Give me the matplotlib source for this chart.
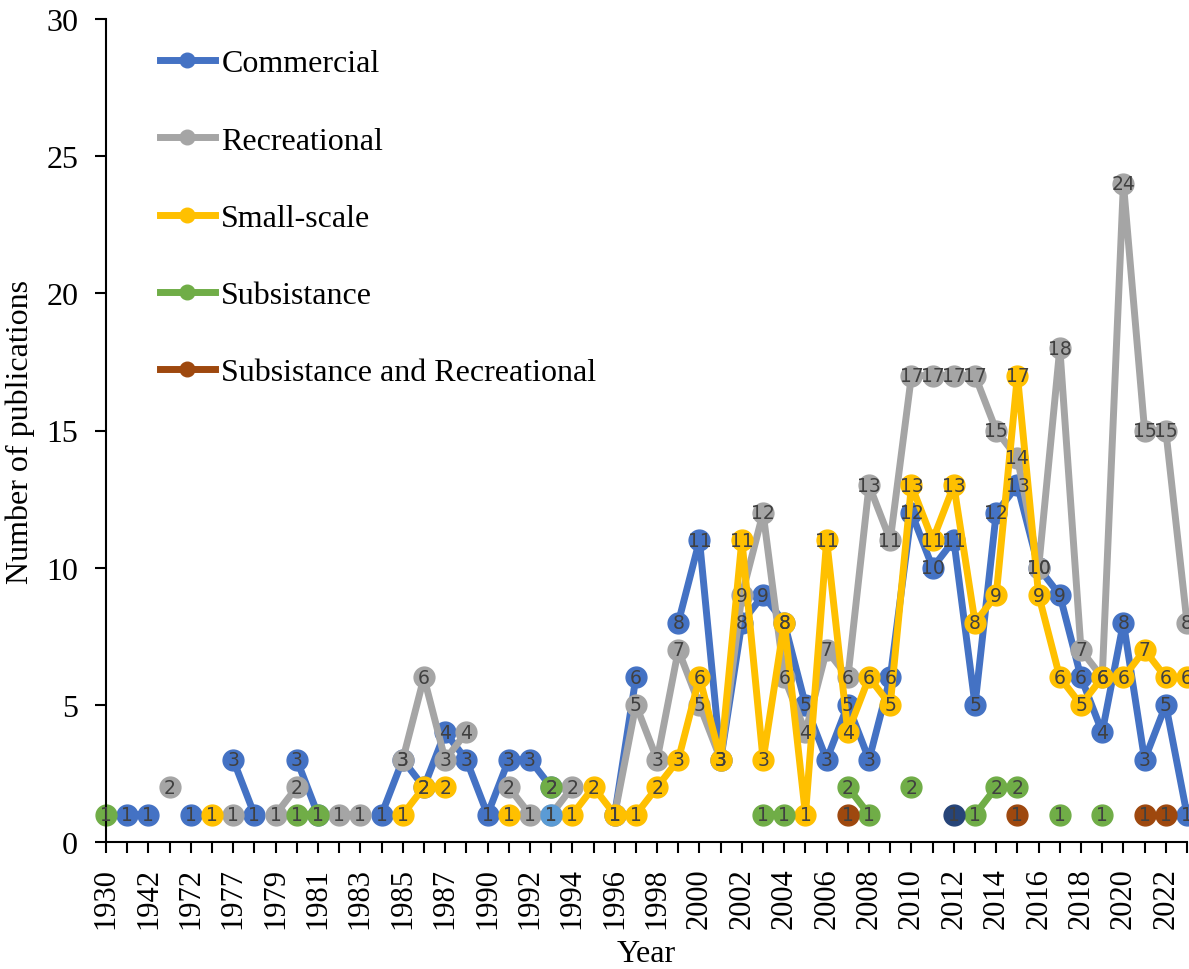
import numpy as np
import matplotlib.pyplot as plt

plt.rcParams['font.family'] = 'Liberation Serif'

# category axis (one entry per year that has publications)
years = ['1930', '1940', '1942', '1970', '1972', '1975', '1977', '1978', '1979', '1980',
         '1981', '1982', '1983', '1984', '1985', '1986', '1987', '1988'] + \
        [str(y) for y in range(1990, 2024)]

commercial = [None, 1, 1, None, 1, None, 3, 1, None, 3,
              1, None, None, 1, 3, 2, 4, 3, 1, 3,
              3, 2, None, None, 1, 6, None, 8, 11, 3,
              8, 9, 8, 5, 3, 5, 3, 6, 12, 10,
              11, 5, 12, 13, 10, 9, 6, 4, 8, 3,
              5, 1]
recreational = [None, None, None, 2, None, None, 1, None, 1, 2,
                None, 1, 1, None, 3, 6, 3, 4, None, 2,
                1, 1, 2, None, 1, 5, 3, 7, 5, 3,
                9, 12, 6, 4, 7, 6, 13, 11, 17, 17,
                17, 17, 15, 14, 10, 18, 7, 6, 24, 15,
                15, 8]
small_scale = [None, None, None, None, None, 1, None, None, None, None,
               None, None, None, None, 1, 2, 2, None, None, 1,
               None, None, 1, 2, 1, 1, 2, 3, 6, 3,
               11, 3, 8, 1, 11, 4, 6, 5, 13, 11,
               13, 8, 9, 17, 9, 6, 5, 6, 6, 7,
               6, 6]
subsistence = [1, None, None, None, None, None, None, None, None, 1,
               1, None, None, None, None, None, None, None, None, None,
               None, 2, None, None, None, None, None, None, None, None,
               None, 1, 1, None, None, 2, 1, None, 2, None,
               None, 1, 2, 2, None, 1, None, 1, None, None,
               None, None]
subs_rec = [None] * 35 + [1] + [None] * 7 + [1] + [None] * 5 + [1, 1, None]
# two single points with their own colour and no legend entry
other_a = [None] * 21 + [1] + [None] * 30
other_b = [None] * 40 + [1] + [None] * 11

series = [
    ('Commercial', commercial, '#4472C4'),
    ('Recreational', recreational, '#A5A5A5'),
    ('Small-scale', small_scale, '#FFC000'),
    ('Subsistance', subsistence, '#70AD47'),
    ('Subsistance and Recreational', subs_rec, '#9E480E'),
    ('_other_a', other_a, '#5B9BD5'),
    ('_other_b', other_b, '#264478'),
]

fig = plt.figure(figsize=(11.89, 9.70), dpi=100)
ax = fig.add_axes([106 / 1189, 1 - 843 / 970, 1081 / 1189, 823 / 970])

x = np.arange(len(years))
for name, vals, col in series:
    v = np.array(vals, dtype=float)
    ax.plot(x, v, '-o', color=col, lw=5, ms=15, label=name, clip_on=False, zorder=2)

# data labels on top of everything
for name, vals, col in series:
    for i, v in enumerate(vals):
        if v is None:
            continue
        ax.text(i, v, str(v), ha='center', va='center', fontsize=13.5,
                family='DejaVu Sans', color='#404040', zorder=5, clip_on=False)

ax.set_xlim(0, len(years) - 1)
ax.set_ylim(0, 30)
ax.set_yticks(range(0, 31, 5))
ax.set_xticks(x)
ax.set_xticklabels([y if i % 2 == 0 else '' for i, y in enumerate(years)], rotation=90)
ax.tick_params(axis='both', direction='out', length=8, width=1.5, colors='black')
ax.tick_params(axis='x', labelsize=22, pad=10)
ax.tick_params(axis='y', labelsize=23, pad=12)
for s in ['top', 'right']:
    ax.spines[s].set_visible(False)
for s in ['left', 'bottom']:
    ax.spines[s].set_linewidth(1.5)

ax.set_xlabel('Year', fontsize=23, labelpad=8)
ax.set_ylabel('Number of publications', fontsize=23, labelpad=8)

handles, labels = ax.get_legend_handles_labels()
leg = ax.legend(handles[:5], labels[:5], loc='upper left',
                bbox_to_anchor=(160 / 1189, 1 - 50 / 970), bbox_transform=fig.transFigure,
                frameon=False, fontsize=23, handlelength=1.72, handletextpad=0.2,
                labelspacing=1.5, borderpad=0, borderaxespad=0, markerscale=0.7, numpoints=1)

fig.savefig('out.png', dpi=100)
